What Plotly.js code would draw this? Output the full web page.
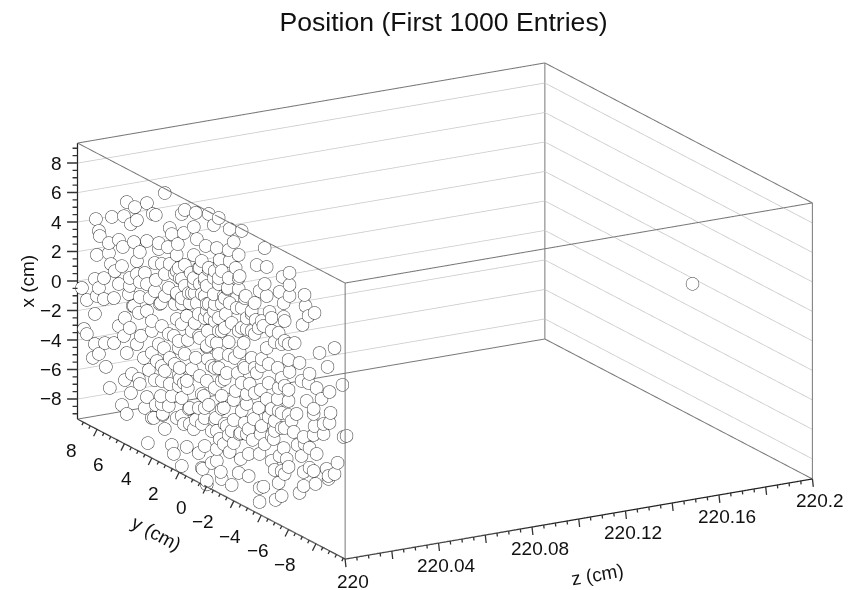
<!DOCTYPE html>
<html><head><meta charset="utf-8"><script src="https://cdn.plot.ly/plotly-3.0.1.min.js"></script>
<style>html,body{margin:0;padding:0;background:#fff}</style></head><body><div id="g" style="width:848px;height:590px"></div>
<script>
const yVals=[3.23,6.01,5.42,4.54,8.27,7.10,6.22,5.71,5.27,3.89,4.11,1.77,0.97,1.99,0.02,8.05,7.98,7.32,8.20,7.32,6.59,6.30,5.49,4.54,5.06,3.67,3.01,2.87,2.72,1.84,1.11,0.89,0.24,2.28,1.11,2.36,3.67,7.17,6.37,6.88,5.27,3.96,2.87,1.77,0.75,0.02,8.34,7.68,9.29,8.20,8.05,8.93,6.95,6.59,5.79,5.06,5.27,3.89,4.54,3.23,2.50,1.11,1.99,0.31,5.06,4.33,3.52,2.36,1.41,0.31,1.04,5.49,2.94,3.23,
-0.71,-0.35,-1.51,-2.39,-1.81,-4.07,-0.57,-1.44,-2.17,-0.78,-1.51,0.02,-1.95,-3.49,-4.22,-5.89,-5.38,-5.89,-5.16,-5.89,-6.99,-5.46,-7.06,-4.07,-3.70,-4.22,-3.34,-2.17,-1.37,-0.35,-0.71,-2.17,-2.68,-1.15,-2.03,-1.22,0.16,-4.43,-3.12,-7.28,-7.72,-5.46,0.53,
8.34,8.93,9.14,8.34,7.61,6.95,8.05,8.49,7.54,6.59,5.79,6.15,5.57,4.54,6.22,4.98,4.18,6.01,4.18,3.30,2.57,2.36,3.60,1.04,1.55,0.16,0.97,2.87,4.40,3.23,2.21,1.26,0.16,1.55,2.87,3.96,5.06,5.64,6.15,7.25,5.71,4.54,3.52,1.99,2.94,3.89,2.36,3.38,4.03,0.75,6.01,6.37,1.41,0.38,0.02,4.76,
-1.66,0.09,-0.93,-2.76,-3.98,-3.41,-5.53,-6.84,-6.26,-5.82,-4.80,-4.22,-2.54,-1.44,0.16,-2.24,-0.71,0.09,-3.12,-1.44,-3.85,-5.82,-6.62,-5.02,-5.89,-8.08,-9.18,-8.67,-7.35,-7.28,-7.87,-9.76,-8.81,-1.30,-2.10,-2.97,-4.36,-3.78,-5.82,-1.95,-0.42,-1.81,-2.76,-5.02,-3.63,0.02,-5.82,-4.36,-7.14,-7.65,-8.23,-8.89,-8.81,-7.72,-3.27,-1.81,-0.49,-2.32,-0.57,-6.19,-4.58,-6.92,-10.06,-9.84,-1.44,
4.47,2.72,2.57,1.99,1.62,0.75,0.46,-0.20,0.16,-0.86,-1.66,-2.17,-2.90,-3.98,-3.70,-4.87,-5.09,-4.80,-5.68,-5.82,-6.92,-7.65,-7.79,-8.60,-9.40,-6.62,-7.87,-6.77,-6.48,-5.46,-4.07,-3.70,-2.90,-2.32,-1.51,-1.81,-3.19,-0.78,-2.24,1.11,1.84,3.23,3.38,0.97,-7.65,-4.73,-3.78,-8.38,-8.74,-7.65,
0.16,-5.31,-6.92,
1.33,2.36,1.26,-1.37,-1.08,2.36,1.77,-0.05,-0.42,0.75,1.99,-2.76,1.26,0.68,2.50,-1.44,-0.42,0.31,-0.71,-0.35,1.62,-2.39,-3.63,-0.20,-3.12,-4.58,
2.14,-0.42,-0.20,-1.66,-4.73,1.62,-0.71,0.68,-0.93,1.48,-3.49,-5.53,-2.54,-3.85,1.84,-0.20,-3.34,-4.58,-0.93,-2.90,-5.31,-1.15,0.31,2.14,
0.68,-0.78,-0.35,-0.93,-2.24,2.14,0.68,0.16,1.48,1.99,0.89,0.16,-0.93,-1.51,-2.61,-3.12,0.31,-0.71,1.99,-0.71,-2.39,0.75,2.21,-3.85,-4.58,-5.09,-5.53,
5.13,4.18,3.45,2.94,5.27,3.67,2.21,3.81,1.77,3.45,2.50,5.13,3.45,2.21,0.53,2.72,4.69,3.45,1.41,0.31,1.99,
-0.42,-1.15,-2.17,-3.34,-5.31,-0.57,-1.88,-0.42,-2.61,-3.34,-4.36,-5.31,-6.77,-0.93,-2.39,-5.09,-5.82,-2.76,-4.22,-1.08,-2.39,-5.09,-6.40,-1.15,-3.85,-5.31,
5.79,4.69,3.45,2.21,0.53,1.11,3.96,5.86,7.68,
4.18,0.53,-1.30,-2.61,-4.80,-5.53,-4.80,-2.76,-1.08,0.31,-0.57,-6.04,-6.99,-7.35,-8.38,-4.58,-5.16,-7.35,-9.18,-8.74,-0.57,-0.93,0.53,-5.31,-3.70,-5.53];
const xVals=[8.97,7.01,6.95,7.65,4.76,5.47,5.95,5.66,6.14,7.16,7.12,8.53,8.72,8.15,9.11,4.06,3.75,3.59,2.36,2.91,4.16,3.82,4.55,5.08,4.08,5.36,5.41,6.77,6.43,6.93,7.69,6.98,6.83,5.97,5.79,5.19,4.96,2.24,2.49,1.90,3.36,3.87,4.33,4.80,5.09,5.45,0.66,1.04,-0.41,-0.42,0.19,-1.05,0.04,1.17,1.43,2.05,2.48,2.75,2.16,3.48,3.83,3.89,3.74,4.62,1.03,1.32,1.36,2.54,2.39,3.40,3.25,0.21,2.67,1.99,
9.19,8.53,8.83,9.13,8.09,8.78,7.08,7.37,7.39,6.38,6.66,5.31,6.40,7.35,7.57,7.98,7.46,7.16,6.33,6.42,7.02,5.72,6.30,6.34,5.69,5.60,4.70,5.08,4.69,3.85,5.12,5.83,4.86,3.97,3.73,2.93,2.46,4.62,3.85,5.73,6.15,4.78,3.43,
-1.71,-3.36,-3.12,-3.75,-3.33,-3.01,-4.28,-4.76,-4.91,-1.68,-1.42,-0.92,0.17,0.33,-2.18,-1.57,-0.84,-3.23,-2.34,-1.58,-0.40,0.85,1.27,1.22,-0.18,0.02,-1.11,-2.04,-3.60,-3.10,-2.88,-2.01,-2.28,-3.44,-3.81,-4.07,-4.87,-4.47,-5.13,-6.20,-5.80,-5.50,-4.94,-4.33,-5.33,-5.72,-5.86,-6.08,-6.67,-4.40,-7.36,-6.93,-5.81,-3.41,3.01,-2.96,
2.53,1.14,1.64,2.65,3.46,3.58,4.54,4.91,3.40,3.12,2.77,2.07,1.60,1.13,0.09,0.84,-0.03,-0.76,0.87,0.25,1.15,2.04,2.23,1.11,1.27,3.61,4.48,2.95,1.84,1.19,1.13,2.26,1.32,-1.04,-0.65,-0.97,-0.23,-0.98,0.01,-1.94,-2.48,-2.62,-2.43,-0.99,-2.27,-3.84,-1.69,-2.53,-0.10,-0.39,0.57,-0.06,-0.78,-1.52,-3.20,-3.98,-4.48,-4.61,-5.32,-2.66,-3.71,-2.65,-1.05,-1.23,-5.18,
-8.59,-7.87,-8.40,-8.94,-7.47,-7.46,-8.40,-7.67,-9.06,-7.96,-8.46,-7.39,-7.25,-7.45,-8.62,-7.91,-6.65,-5.91,-4.74,-5.21,-5.02,-4.60,-5.41,-4.00,-3.20,-6.59,-3.34,-4.01,-3.40,-4.11,-4.51,-5.36,-5.75,-6.37,-6.29,-5.54,-4.65,-5.76,-4.72,-6.01,-6.02,-7.03,-6.15,-5.32,-2.16,-3.85,-3.97,-1.74,-4.41,-0.73,
-9.30,-7.43,-5.97,
4.47,4.10,3.14,4.76,4.08,2.61,3.38,2.09,3.22,1.97,2.05,3.40,0.57,0.38,1.80,5.47,5.45,4.42,4.71,2.70,1.41,3.91,3.15,0.60,2.70,3.41,
-2.36,-4.65,-5.50,-4.79,-2.97,-2.99,-0.98,-2.20,-2.77,-4.82,0.03,0.14,0.04,0.67,-3.24,-1.10,-1.40,-1.88,-3.65,-4.06,-1.80,-1.52,-4.87,-3.11,
5.13,6.18,4.94,5.70,5.99,3.74,4.04,4.16,3.04,2.45,2.64,2.94,3.47,3.81,4.68,4.05,1.91,2.41,0.69,1.53,2.55,0.48,-0.57,3.72,4.29,3.52,3.19,
-0.08,-0.17,-0.16,-0.45,-2.27,-1.49,-1.05,-2.71,-1.23,-2.87,-2.27,-4.56,-3.88,-3.62,-3.35,-4.55,-6.31,-5.44,-4.72,-4.19,-5.55,
2.06,1.94,2.24,2.60,2.87,0.64,0.27,-1.12,-0.06,0.30,1.06,0.57,1.08,-1.75,-1.18,-0.21,-0.74,-1.76,-1.38,-3.51,-3.08,-1.77,-1.34,-4.57,-3.40,-2.82,
1.97,2.84,4.05,4.38,5.67,4.23,1.97,0.84,-0.38,
-6.74,-5.38,-4.64,-3.79,-2.59,-2.71,-3.26,-4.47,-5.96,-6.77,-6.54,-1.99,-3.09,-3.18,-1.06,-5.41,-4.79,-4.53,-4.06,-4.61,-7.36,-8.40,-8.36,-5.74,-7.67,-5.83];
const zCluster=220.001;
const zOut=[220.183], yOut=[-4.26], xOut=[1.5];
const xLabels=[-8,-6,-4,-2,0,2,4,6,8];
const xMinor=[-9,-8.5,-7.5,-7,-6.5,-5.5,-5,-4.5,-3.5,-3,-2.5,-1.5,-1,-0.5,0.5,1,1.5,2.5,3,3.5,4.5,5,5.5,6.5,7,7.5,8.5,9];
const yLabels=[-8,-6,-4,-2,0,2,4,6,8];
const yMinor=[-10,-9.5,-9,-8.5,-7.5,-7,-6.5,-5.5,-5,-4.5,-3.5,-3,-2.5,-1.5,-1,-0.5,0.5,1,1.5,2.5,3,3.5,4.5,5,5.5,6.5,7,7.5,8.5,9];
const zLabels=[220,220.04,220.08,220.12,220.16,220.2];
const zLong=[220,220.02,220.04,220.06,220.08,220.1,220.12,220.14,220.16,220.18,220.2];
const zMinor=[220.005,220.01,220.015,220.025,220.03,220.035,220.045,220.05,220.055,220.065,220.07,220.075,220.085,220.09,220.095,220.105,220.11,220.115,220.125,220.13,220.135,220.145,220.15,220.155,220.165,220.17,220.175,220.185,220.19,220.195];
const XR=[-9.36,9.36], YR=[-10.13,9.43], ZR=[220,220.2];
const XP=[-10,10], YP=[-10.8,10.1], ZP=[219.98,220.22];
const aspectX=1.93*(ZP[1]-ZP[0])/(ZR[1]-ZR[0]), aspectY=1.93*(YP[1]-YP[0])/(YR[1]-YR[0]), aspectZ=1.037*(XP[1]-XP[0])/(XR[1]-XR[0]);
const eyeDir=[-0.474,-0.828,0.2995];
const fmt=v=>String(v).replace('-','\u2212');
const traces=[];
function edge(a,b,color,width){traces.push({type:'scatter3d',mode:'lines',x:[a[0],b[0]],y:[a[1],b[1]],z:[a[2],b[2]],line:{color:color,width:width},hoverinfo:'skip'});}
YR.forEach(y=>XR.forEach(x=>edge([ZR[0],y,x],[ZR[1],y,x],'#777',2)));
ZR.forEach(z=>XR.forEach(x=>edge([z,YR[0],x],[z,YR[1],x],'#777',2)));
ZR.forEach(z=>YR.forEach(y=>edge([z,y,XR[0]],[z,y,XR[1]],'#777',2)));
edge([ZR[0],YR[0],XR[0]],[ZR[1],YR[0],XR[0]],'#222',2.5);
edge([ZR[0],YR[0],XR[0]],[ZR[0],YR[1],XR[0]],'#222',2.5);
edge([ZR[0],YR[1],XR[0]],[ZR[0],YR[1],XR[1]],'#222',2.5);
xLabels.forEach(v=>{edge([ZR[0],YR[1],v],[ZR[1],YR[1],v],'#c8c8c8',1.5);edge([ZR[1],YR[1],v],[ZR[1],YR[0],v],'#c8c8c8',1.5);});
const tickColor='#333';
function tick(p,ax,ay){return {x:p[0],y:p[1],z:p[2],text:' ',font:{size:1},borderpad:0,showarrow:true,arrowhead:0,arrowwidth:1.3,arrowcolor:tickColor,standoff:0,ax:ax,ay:ay};}
const font={family:'Liberation Sans',size:19,color:'#111'};
function label(p,t,xs,ys,anc){return {x:p[0],y:p[1],z:p[2],text:t,showarrow:false,xshift:xs,yshift:ys,xanchor:anc,yanchor:'middle',font:font};}
const ann=[];
xLabels.forEach(v=>{ann.push(tick([ZR[0],YR[1],v],-11,0));ann.push(label([ZR[0],YR[1],v],fmt(v),-14,0,'right'));});
xMinor.forEach(v=>ann.push(tick([ZR[0],YR[1],v],-5.5,0)));
yLabels.forEach(v=>{ann.push(tick([ZR[0],v,XR[0]],-4,8));ann.push(label([ZR[0],v,XR[0]],fmt(v),-18,-21,'right'));});
yMinor.forEach(v=>ann.push(tick([ZR[0],v,XR[0]],-2,4)));
zLong.forEach(v=>ann.push(tick([v,YR[0],XR[0]],1,9)));
zMinor.forEach(v=>ann.push(tick([v,YR[0],XR[0]],0.5,4.5)));
zLabels.forEach(v=>ann.push(label([v,YR[0],XR[0]],String(v),8,-22,'center')));
ann.push(Object.assign(label([ZR[0],YR[1],0],'x (cm)',-51,0,'center'),{textangle:-90}));
ann.push(Object.assign(label([ZR[0],0,XR[0]],'y (cm)',-50,-47,'center'),{textangle:28}));
ann.push(Object.assign(label([220.1,YR[0],XR[0]],'z (cm)',19,-56,'center'),{textangle:-10}));
const hidden=o=>Object.assign({showbackground:false,showline:false,showgrid:false,zeroline:false,showspikes:false,ticks:'',showticklabels:false,title:{text:''}},o);
traces.push({type:'scatter3d',mode:'markers',x:yVals.map(()=>zCluster).concat(zOut),y:yVals.concat(yOut),z:xVals.concat(xOut),marker:{size:7.5,color:'#fff',line:{color:'#333',width:3.5}}});
Plotly.newPlot('g',traces,{
 width:848,height:590,margin:{l:0,r:0,t:0,b:0},paper_bgcolor:'#fff',showlegend:false,
 title:{text:'Position (First 1000 Entries)',x:0.523,y:0.963,xanchor:'center',yanchor:'middle',font:{family:'Liberation Sans',size:26.6,color:'#111'}},
 scene:{domain:{x:[0.0495,1],y:[0,0.946]},aspectmode:'manual',aspectratio:{x:aspectX,y:aspectY,z:aspectZ},
  camera:{projection:{type:'orthographic'},eye:{x:eyeDir[0]*2,y:eyeDir[1]*2,z:eyeDir[2]*2},up:{x:0,y:0,z:1},center:{x:0,y:0,z:0}},
  xaxis:hidden({range:ZP}),yaxis:hidden({range:YP}),zaxis:hidden({range:XP}),annotations:ann
 }},{displayModeBar:false});
</script></body></html>
